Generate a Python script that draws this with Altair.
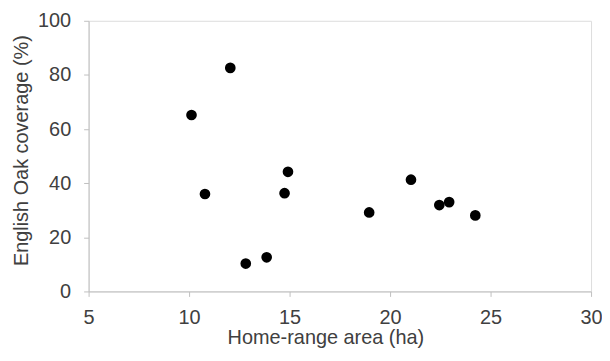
import altair as alt
import pandas as pd

home_range_ha = [10.12, 12.05, 10.79, 14.92, 14.75, 12.82, 13.86, 18.96, 21.04, 22.45, 22.94, 24.24]
oak_coverage_pct = [65.2, 82.6, 36.0, 44.2, 36.3, 10.3, 12.6, 29.2, 41.3, 31.9, 33.0, 28.1]
x_ticks = [5, 10, 15, 20, 25, 30]
y_ticks = [0, 20, 40, 60, 80, 100]

df = pd.DataFrame({"area": home_range_ha, "oak": oak_coverage_pct})

axis_common = dict(
    grid=False,
    domainColor="#bfbfbf",
    tickColor="#bfbfbf",
    tickSize=5,
    labelFont="Liberation Sans",
    labelFontSize=20,
    labelColor="#404040",
    labelFlush=False,
    labelOverlap=False,
    titleFont="Liberation Sans",
    titleFontSize=20,
    titleFontWeight="normal",
    titleColor="#404040",
)

chart = (
    alt.Chart(df)
    .mark_circle(size=115, color="black", opacity=1)
    .encode(
        x=alt.X(
            "area:Q",
            scale=alt.Scale(domain=[5, 30], nice=False, zero=False),
            axis=alt.Axis(
                title="Home-range area (ha)", values=x_ticks, labelPadding=11,
                titleX=238, titleY=36, titleAlign="center", titleBaseline="top",
                **axis_common,
            ),
        ),
        y=alt.Y(
            "oak:Q",
            scale=alt.Scale(domain=[0, 100], nice=False),
            axis=alt.Axis(
                title="English Oak coverage (%)", values=y_ticks, labelPadding=13,
                titleX=-57, titleY=130, titleAngle=270, titleAlign="center", titleBaseline="bottom",
                **axis_common,
            ),
        ),
    )
    .properties(
        width=505,
        height=272,
        autosize=alt.AutoSizeParams(type="none"),
        padding={"left": 81, "top": 12, "right": 11, "bottom": 57},
    )
    .configure_view(stroke=None)
    .configure(background="white")
)

chart.save("out.html", embed_options={"renderer": "svg", "actions": False})
